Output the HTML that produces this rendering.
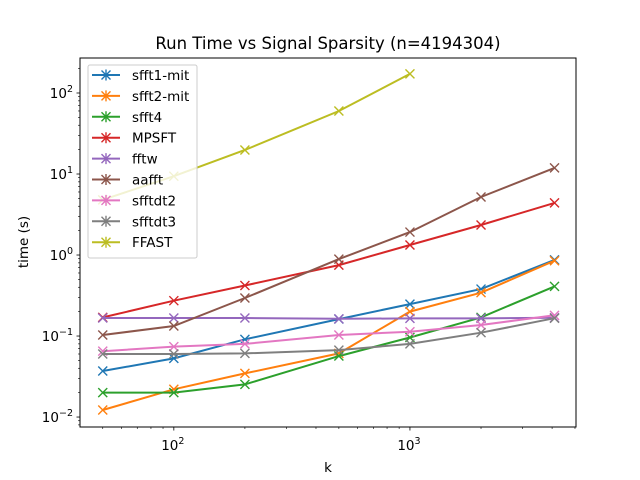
<!DOCTYPE html>
<html><head><meta charset="utf-8"><style>
html,body{margin:0;padding:0;background:#fff;}
svg{display:block;font-family:"DejaVu Sans","Liberation Sans",sans-serif;}
</style></head><body>
<svg id="chart" width="640" height="480" viewBox="0 0 640 480" xmlns="http://www.w3.org/2000/svg">
<rect width="640" height="480" fill="#fff"/>
<text x="328" y="49" font-size="16.5" text-anchor="middle" fill="#000">Run Time vs Signal Sparsity (n=4194304)</text>
<text x="328" y="472" font-size="13.5" text-anchor="middle">k</text>
<text transform="translate(28,242) rotate(-90)" font-size="13.5" text-anchor="middle">time (s)</text>
<g id="plot"></g>
</svg>
<script>
const kValues=[50,100,200,500,1000,2000,4096];
const seriesNames=["sfft1-mit","sfft2-mit","sfft4","MPSFT","fftw","aafft","sfftdt2","sfftdt3","FFAST"];
const seriesColors=["#1f77b4","#ff7f0e","#2ca02c","#d62728","#9467bd","#8c564b","#e377c2","#7f7f7f","#bcbd22"];
const sfft1=[0.037,0.053,0.091,0.162,0.248,0.38,0.87];
const sfft2=[0.0122,0.022,0.0346,0.061,0.20,0.343,0.85];
const sfft4=[0.020,0.020,0.0253,0.0566,0.096,0.17,0.41];
const mpsft=[0.17,0.273,0.42,0.75,1.33,2.35,4.4];
const fftw=[0.167,0.167,0.167,0.163,0.165,0.165,0.168];
const aafft=[0.103,0.133,0.295,0.89,1.92,5.2,11.9];
const sfftdt2=[0.065,0.074,0.080,0.103,0.113,0.137,0.18];
const sfftdt3=[0.060,0.060,0.061,0.067,0.080,0.11,0.166];
const ffast=[4.8,9.4,19.8,60,172];
const xTicks=[2,3];
const yTicks=[-2,-1,0,1,2];
const allSeries=[sfft1,sfft2,sfft4,mpsft,fftw,aafft,sfftdt2,sfftdt3,ffast];

const L=80,R=576,T=58,B=427;
const xMin=Math.log10(40.05),xMax=Math.log10(5050);
const yMin=-2.123,yMax=2.432;
function X(v){return L+(Math.log10(v)-xMin)/(xMax-xMin)*(R-L);}
function Y(v){return B-(Math.log10(v)-yMin)/(yMax-yMin)*(B-T);}
const NS="http://www.w3.org/2000/svg";
const g=document.getElementById('plot');
function mk(tag,attrs,parent){const e=document.createElementNS(NS,tag);for(const k in attrs)e.setAttribute(k,attrs[k]);(parent||g).appendChild(e);return e;}

const defs=mk('defs',{});
const cp=mk('clipPath',{id:'clip'},defs);mk('rect',{x:L,y:T,width:R-L,height:B-T},cp);

const data=mk('g',{'clip-path':'url(#clip)'});


allSeries.forEach((vals,si)=>{
  const c=seriesColors[si];
  const sg=mk('g',{},data);
  
  
  const pts=vals.map((v,i)=>X(kValues[i]).toFixed(1)+','+Y(v).toFixed(1)).join(' ');
  const pl=mk('polyline',{points:pts,fill:'none',stroke:c,'stroke-width':2},sg);
  
  
  vals.forEach((v,i)=>{
    const x=X(kValues[i]),y=Y(v),s=4.5;
    const m=mk('path',{d:`M${x-s},${y-s}L${x+s},${y+s}M${x-s},${y+s}L${x+s},${y-s}`,stroke:c,'stroke-width':1.4,fill:'none'},sg);
    
    
  });
});

const frame=mk('rect',{x:L,y:T,width:R-L,height:B-T,fill:'none',stroke:'#000','stroke-width':1});



const xa=mk('g',{});


for(let d=1;d<=3;d++){for(let m=1;m<10;m++){const v=m*Math.pow(10,d);const x=X(v);if(x<L-0.1||x>R+0.1)continue;
  const major=m===1;mk('line',{x1:x,y1:B,x2:x,y2:B+(major?3.5:2),stroke:'#000','stroke-width':major?0.8:0.6},xa);}}
xTicks.forEach(e=>{const x=X(Math.pow(10,e));
  const t=mk('text',{x:x-1,y:450,'font-size':13.5,'text-anchor':'middle'},xa);
  
  
  t.innerHTML='10<tspan dy="-6" font-size="9.5">'+e+'</tspan>';});

const ya=mk('g',{});


for(let d=-3;d<=2;d++){for(let m=1;m<10;m++){const v=m*Math.pow(10,d);const y=Y(v);if(y<T-0.1||y>B+0.1)continue;
  const major=m===1;mk('line',{x1:L,y1:y,x2:L-(major?3.5:2),y2:y,stroke:'#000','stroke-width':major?0.8:0.6},ya);}}
yTicks.forEach(e=>{const y=Y(Math.pow(10,e));
  const t=mk('text',{x:73,y:y+5,'font-size':13.5,'text-anchor':'end'},ya);
  
  
  const neg=e<0?'\u2212':'';
  t.innerHTML='10<tspan dy="-6" font-size="9.5">'+neg+Math.abs(e)+'</tspan>';});

const lg=mk('g',{});


mk('rect',{x:88,y:65,width:109,height:193,rx:2,fill:'#fff','fill-opacity':0.8,stroke:'#ccc','stroke-width':1},lg);
seriesNames.forEach((n,i)=>{
  const y=75+i*20.9,c=seriesColors[i];
  const e=mk('g',{},lg);
  
  
  mk('line',{x1:92,y1:y,x2:120,y2:y,stroke:c,'stroke-width':2},e);
  const s=4.5,x=106;
  mk('path',{d:`M${x-s},${y-s}L${x+s},${y+s}M${x-s},${y+s}L${x+s},${y-s}M${x},${y-s-1}L${x},${y+s+1}`,stroke:c,'stroke-width':1.4},e);
  const t=mk('text',{x:132,y:y+5,'font-size':13.5},e);
  t.textContent=n;
});
</script>
</body></html>
